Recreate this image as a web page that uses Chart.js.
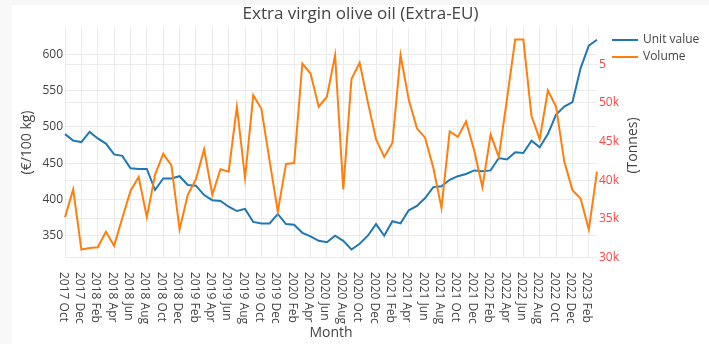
<!DOCTYPE html>
<html>
<head>
<meta charset="utf-8">
<script src="https://cdn.jsdelivr.net/npm/chart.js@4.4.0/dist/chart.umd.min.js"></script>
<style>
  html, body { margin: 0; padding: 0; background: #f8f8f8; }
  #card { position: absolute; left: 12px; top: 5px; width: 697px; height: 339px; background: #fff; }
</style>
</head>
<body>
<div id="card"><canvas id="chart"></canvas></div>
<script>
// months on the x axis (2017 Oct .. 2023 Mar)
const months = [
  '2017 Oct', '2017 Nov', '2017 Dec',
  '2018 Jan', '2018 Feb', '2018 Mar', '2018 Apr', '2018 May', '2018 Jun',
  '2018 Jul', '2018 Aug', '2018 Sep', '2018 Oct', '2018 Nov', '2018 Dec',
  '2019 Jan', '2019 Feb', '2019 Mar', '2019 Apr', '2019 May', '2019 Jun',
  '2019 Jul', '2019 Aug', '2019 Sep', '2019 Oct', '2019 Nov', '2019 Dec',
  '2020 Jan', '2020 Feb', '2020 Mar', '2020 Apr', '2020 May', '2020 Jun',
  '2020 Jul', '2020 Aug', '2020 Sep', '2020 Oct', '2020 Nov', '2020 Dec',
  '2021 Jan', '2021 Feb', '2021 Mar', '2021 Apr', '2021 May', '2021 Jun',
  '2021 Jul', '2021 Aug', '2021 Sep', '2021 Oct', '2021 Nov', '2021 Dec',
  '2022 Jan', '2022 Feb', '2022 Mar', '2022 Apr', '2022 May', '2022 Jun',
  '2022 Jul', '2022 Aug', '2022 Sep', '2022 Oct', '2022 Nov', '2022 Dec',
  '2023 Jan', '2023 Feb', '2023 Mar'
];

// €/100 kg
const unitValue = [
  490, 481, 479, 493, 484, 477, 462, 460, 443, 442,
  442, 413, 429, 429, 432, 420, 419, 406, 399, 398,
  390, 384, 387, 369, 367, 367, 380, 366, 365, 354,
  349, 343, 341, 350, 343, 331, 339, 350, 366, 350,
  370, 367, 385, 391, 402, 417, 418, 427, 432, 435,
  440, 439, 440, 457, 455, 465, 464, 481, 472, 490,
  517, 528, 534, 581, 612, 620
];

// tonnes
const volume = [
  35200, 38800, 31000, 31200, 31300, 33300, 31500, 35100, 38600, 40400,
  35200, 40700, 43400, 41900, 33600, 38100, 40100, 44000, 38100, 41400,
  41100, 49500, 40300, 51000, 49200, 42500, 35900, 42100, 42200, 55100,
  53800, 49500, 50800, 56200, 38800, 53100, 55200, 50100, 45300, 43000,
  44800, 56200, 50400, 46700, 45500, 41600, 36400, 46300, 45600, 47600,
  43800, 39100, 45900, 43000, 50500, 58200, 58200, 48300, 45300, 51600,
  49500, 42400, 38700, 37600, 33600, 41100
];

// axis ticks
const unitTicks = [350, 400, 450, 500, 550, 600];
const volumeTicks = [30000, 35000, 40000, 45000, 50000, 55000];

const FONT = '"Open Sans", verdana, arial, sans-serif';
const TEXT = '#444';
const GRID = '#ebebeb';

// x labels read top to bottom, so draw them here; also right title and legend
const extras = {
  id: 'extras',
  afterDraw(chart) {
    const {ctx, chartArea, scales} = chart;
    ctx.save();
    ctx.fillStyle = TEXT;
    ctx.font = '12px ' + FONT;
    ctx.textAlign = 'left';
    ctx.textBaseline = 'middle';
    months.forEach((m, i) => {
      if (i % 2) return;
      const px = scales.x.getPixelForValue(i);
      ctx.save();
      ctx.translate(px - 2, chartArea.bottom + 14);
      ctx.rotate(Math.PI / 2);
      ctx.fillText(m, 0, 0);
      ctx.restore();
    });

    // right axis title
    ctx.save();
    ctx.font = '14px ' + FONT;
    ctx.textAlign = 'center';
    ctx.translate(621, (chartArea.top + chartArea.bottom) / 2 + 3);
    ctx.rotate(-Math.PI / 2);
    ctx.fillText('(Tonnes)', 0, 0);
    ctx.restore();

    // legend box
    ctx.fillStyle = '#fff';
    ctx.fillRect(593, 23, 104, 40);
    ctx.font = '12px ' + FONT;
    chart.data.datasets.forEach((ds, i) => {
      const y = 35 + i * 17;
      ctx.strokeStyle = ds.borderColor;
      ctx.lineWidth = 2;
      ctx.beginPath();
      ctx.moveTo(600, y);
      ctx.lineTo(626, y);
      ctx.stroke();
      ctx.fillStyle = TEXT;
      ctx.fillText(ds.label, 631, y);
    });
    ctx.restore();
  }
};

new Chart(document.getElementById('chart'), {
  type: 'line',
  data: {
    labels: months,
    datasets: [
      {
        label: 'Unit value',
        data: unitValue,
        yAxisID: 'y',
        borderColor: '#1f77b4',
        backgroundColor: '#1f77b4',
        borderWidth: 2,
        pointRadius: 0,
        tension: 0,
        order: 1,
      },
      {
        label: 'Volume',
        data: volume,
        yAxisID: 'y1',
        borderColor: '#ff7f0e',
        backgroundColor: '#ff7f0e',
        borderWidth: 2,
        pointRadius: 0,
        tension: 0,
        order: 0,
      },
    ],
  },
  options: {
    animation: false,
    responsive: true,
    maintainAspectRatio: false,
    layout: { padding: { left: 0, right: 0, top: 0, bottom: 0 } },
    plugins: {
      legend: { display: false },
      tooltip: { enabled: false },
      title: {
        display: true,
        text: 'Extra virgin olive oil (Extra-EU)',
        color: TEXT,
        font: { family: FONT, size: 17, weight: 'normal', lineHeight: 1 },
        padding: { top: 1, bottom: 4 },
      },
    },
    scales: {
      x: {
        type: 'category',
        offset: false,
        ticks: { display: false, autoSkip: false },
        grid: {
          color: (c) => (c.index % 2 ? 'rgba(0,0,0,0)' : GRID),
          drawTicks: false,
        },
        border: { display: false },
        title: {
          display: true,
          text: 'Month',
          color: TEXT,
          font: { family: FONT, size: 14 },
          padding: { top: 0, bottom: 3 },
        },
        afterFit: (s) => { s.height = 86; },
      },
      y: {
        position: 'left',
        min: 319.3,
        max: 637.6,
        afterBuildTicks: (s) => { s.ticks = unitTicks.map((v) => ({ value: v })); },
        ticks: {
          padding: 2,
          color: TEXT,
          font: { family: FONT, size: 12 },
        },
        grid: { color: GRID, drawTicks: false },
        border: { display: false },
        title: {
          display: true,
          text: '(€/100 kg)',
          color: TEXT,
          font: { family: FONT, size: 14 },
          padding: { top: 6.6, bottom: 0 },
        },
        afterFit: (s) => { s.width = 53; },
      },
      y1: {
        position: 'right',
        min: 29910,
        max: 59830,
        afterBuildTicks: (s) => { s.ticks = volumeTicks.map((v) => ({ value: v })); },
        ticks: {
          padding: 2,
          color: '#ff4444',
          font: { family: FONT, size: 12 },
          callback: (v) => v / 1000 + 'k',
        },
        grid: { color: GRID, drawTicks: false },
        border: { display: false },
        afterFit: (s) => { s.width = 112; },
      },
    },
  },
  plugins: [extras],
});
</script>
</body>
</html>
